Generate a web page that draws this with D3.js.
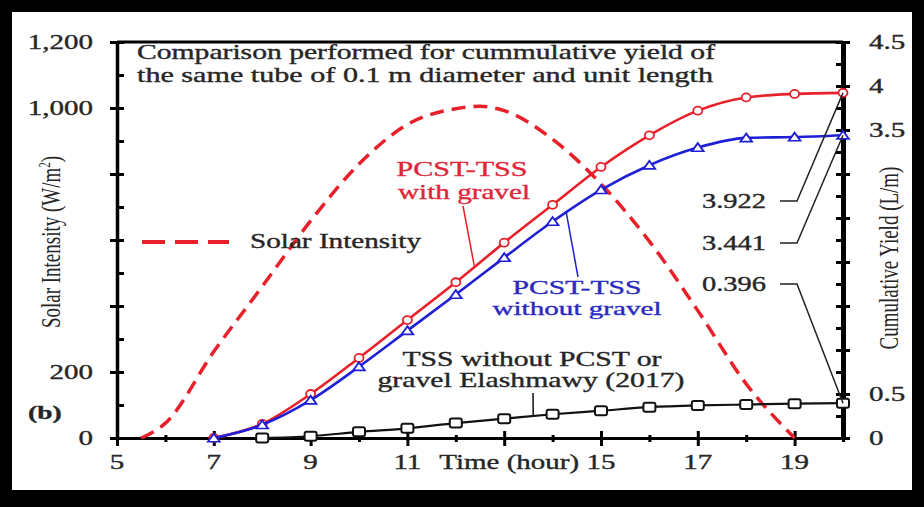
<!DOCTYPE html>
<html>
<head>
<meta charset="utf-8">
<script src="https://cdn.jsdelivr.net/npm/d3@7"></script>
<style>
  body { margin: 0; background: #fff; }
  svg { display: block; }
  text { font-family: "Liberation Serif", "Times New Roman", serif; }
</style>
</head>
<body>
<svg id="chart" width="924" height="507"></svg>
<script>
// cumulative yield (L/m)
const hours = d3.range(7, 21);
const yieldWithGravel = [0, 0.16, 0.50, 0.91, 1.34, 1.77, 2.22, 2.65, 3.08, 3.44, 3.72, 3.87, 3.91, 3.922];
const yieldWithoutGravel = [0, 0.15, 0.43, 0.81, 1.22, 1.63, 2.05, 2.46, 2.82, 3.10, 3.30, 3.41, 3.42, 3.441];
const tssHours = d3.range(8, 21);
const yieldTss = [0, 0.02, 0.07, 0.11, 0.17, 0.22, 0.27, 0.31, 0.35, 0.37, 0.38, 0.39, 0.396];

// solar intensity (W/m2)
const solarHours = [5.5, 6, 7, 8, 9, 10, 11, 12, 12.5, 13, 14, 15, 16, 17, 18, 19];
const solarIntensity = [0, 45, 262, 459, 658, 830, 950, 998, 1005, 992, 905, 770, 596, 386, 164, 0];

const xTickValues = [5, 7, 9, 11, 13, 15, 17, 19];
const xTickLabels = ["5", "7", "9", "11", "Time (hour)", "15", "17", "19"];
const leftTickValues = [0, 200, 1000, 1200];
const leftTickLabels = ["0", "200", "1,000", "1,200"];
const rightTickValues = [0, 0.5, 3.5, 4, 4.5];
const rightTickLabels = ["0", "0.5", "3.5", "4", "4.5"];
const endValues = [3.922, 3.441, 0.396];

const RED = "#e8202a", BLUE = "#1f1fd6", INK = "#262626";
const SX = 1.45; // the figure is stretched sideways

const svg = d3.select("#chart");

// black frame
svg.append("rect").attr("width", 924).attr("height", 507).attr("fill", "#000");
svg.append("rect").attr("x", 12).attr("y", 12).attr("width", 900).attr("height", 478).attr("fill", "#fff");

const x = d3.scaleLinear().domain([5, 20]).range([117, 843]);
const yL = d3.scaleLinear().domain([0, 1200]).range([438, 42]);
const yR = d3.scaleLinear().domain([0, 4.5]).range([438, 42]);

function label(s, px, py, opt = {}) {
    const fill = opt.fill || INK;
    const t = svg.append("text")
        .attr("transform", `translate(${px},${py}) scale(${SX},1)`)
        .attr("text-anchor", opt.anchor || "start")
        .attr("dy", opt.dy || "0")
        .attr("font-size", opt.size || 20)
        .attr("font-weight", opt.weight || "normal")
        .attr("fill", fill)
        .attr("stroke", fill).attr("stroke-width", 0.35)
        .text(s);
    if (opt.w) t.attr("textLength", opt.w / SX).attr("lengthAdjust", "spacingAndGlyphs");
    return t;
}

// bottom axis
const gx = svg.append("g")
    .attr("transform", `translate(0,${yL(0)})`)
    .call(d3.axisBottom(x).tickValues(d3.range(5, 21)).tickSizeOuter(0).tickFormat(""));
gx.select(".domain").attr("stroke", "#000").attr("stroke-width", 3);
gx.selectAll(".tick line")
    .attr("y1", d => d % 2 ? -7 : -3)
    .attr("y2", d => d % 2 ? 8 : 4)
    .attr("stroke", "#000").attr("stroke-width", 3);

// left axis
const gl = svg.append("g")
    .attr("transform", `translate(${x(5)},0)`)
    .call(d3.axisLeft(yL).tickValues(d3.range(0, 1201, 100)).tickSizeOuter(0).tickFormat(""));
gl.select(".domain").attr("stroke", "#000").attr("stroke-width", 3.5);
gl.selectAll(".tick line")
    .attr("x1", d => d % 200 === 0 ? -7 : 0)
    .attr("x2", 7)
    .attr("stroke", "#000").attr("stroke-width", 3);

// right axis
const gr = svg.append("g")
    .attr("transform", `translate(${x(20)},0)`)
    .call(d3.axisRight(yR).tickValues(d3.range(0, 19).map(i => i * 0.25)).tickSizeOuter(0).tickFormat(""));
gr.select(".domain").attr("stroke", "#000").attr("stroke-width", 5);
gr.selectAll(".tick line")
    .attr("x1", -7)
    .attr("x2", (d, i) => i % 2 === 0 ? 7 : 0)
    .attr("stroke", "#000").attr("stroke-width", 3);

// top edge of the plot box
svg.append("line")
    .attr("x1", x(5)).attr("x2", x(20))
    .attr("y1", yL(1200)).attr("y2", yL(1200))
    .attr("stroke", "#000").attr("stroke-width", 3);

// tick labels
xTickValues.forEach((v, i) => label(xTickLabels[i], i === 4 ? x(v) + 5 : x(v), 469, { anchor: "middle" }));
leftTickValues.forEach((v, i) => label(leftTickLabels[i], 93, yL(v), { anchor: "end", dy: "0.33em" }));
rightTickValues.forEach((v, i) => label(rightTickLabels[i], 869, yR(v), { dy: "0.33em" }));

// axis titles
svg.append("text")
    .attr("transform", `translate(50,242) scale(${SX},1) rotate(-90)`)
    .attr("text-anchor", "middle").attr("dy", "0.35em")
    .attr("font-size", 19).attr("fill", INK)
    .html('Solar Intensity (W/m<tspan dy="-7" font-size="11">2</tspan><tspan dy="7">)</tspan>');
svg.append("text")
    .attr("transform", `translate(888,258) scale(${SX},1) rotate(-90)`)
    .attr("text-anchor", "middle").attr("dy", "0.35em")
    .attr("font-size", 19).attr("fill", INK)
    .text("Cumulative Yield (L/m)");

label("(b)", 28, 419, { weight: "bold", size: 19 });

// description
label("Comparison performed for cummulative yield of", 137, 59, { w: 578 });
label("the same tube of 0.1 m diameter and unit length", 137, 82, { w: 576 });

// solar intensity curve
svg.append("path")
    .datum(solarIntensity)
    .attr("d", d3.line().x((d, i) => x(solarHours[i])).y(d => yL(d)).curve(d3.curveMonotoneX))
    .attr("fill", "none").attr("stroke", RED)
    .attr("stroke-width", 3.5).attr("stroke-dasharray", "14,8");

// legend
svg.append("line")
    .attr("x1", 142).attr("x2", 229).attr("y1", 242).attr("y2", 242)
    .attr("stroke", RED).attr("stroke-width", 4).attr("stroke-dasharray", "23,10");
label("Solar Intensity", 250, 248, { w: 171 });

// yield series
const series = [
    { xs: hours, ys: yieldWithGravel, color: RED, marker: "circle", width: 2.6 },
    { xs: hours, ys: yieldWithoutGravel, color: BLUE, marker: "triangle", width: 2.6 },
    { xs: tssHours, ys: yieldTss, color: "#111", marker: "square", width: 2.2 }
];
series.forEach(s => {
    svg.append("path")
        .datum(s.ys)
        .attr("d", d3.line().x((d, i) => x(s.xs[i])).y(d => yR(d)).curve(d3.curveMonotoneX))
        .attr("fill", "none").attr("stroke", s.color).attr("stroke-width", s.width);
    const pts = svg.append("g");
    s.ys.forEach((v, i) => {
        const px = x(s.xs[i]), py = yR(v);
        if (s.marker === "circle") {
            pts.append("ellipse").attr("cx", px).attr("cy", py).attr("rx", 4.5).attr("ry", 4)
                .attr("fill", "#fff").attr("stroke", s.color).attr("stroke-width", 1.8);
        } else if (s.marker === "triangle") {
            pts.append("path")
                .attr("transform", `translate(${px},${py + 1}) scale(1.25,1)`)
                .attr("d", d3.symbol(d3.symbolTriangle).size(38)())
                .attr("fill", "#fff").attr("stroke", s.color).attr("stroke-width", 1.6);
        } else {
            pts.append("rect").attr("x", px - 6).attr("y", py - 4.5).attr("width", 12).attr("height", 9)
                .attr("rx", 2).attr("fill", "#fff").attr("stroke", s.color).attr("stroke-width", 2);
        }
    });
});

// series annotations
label("PCST-TSS", 462, 176, { anchor: "middle", fill: "#e0263a", w: 131 });
label("with gravel", 464, 199, { anchor: "middle", fill: "#e0263a", w: 132 });
svg.append("line").attr("x1", 463).attr("y1", 206).attr("x2", x(12.38)).attr("y2", yR(1.96))
    .attr("stroke", RED).attr("stroke-width", 1.5);

label("PCST-TSS", 577, 294, { anchor: "middle", fill: "#2a2ac0", w: 129, size: 19 });
label("without gravel", 577, 315, { anchor: "middle", fill: "#2a2ac0", w: 169, size: 19 });
svg.append("line").attr("x1", 578).attr("y1", 277).attr("x2", x(14.28)).attr("y2", yR(2.57))
    .attr("stroke", BLUE).attr("stroke-width", 1.5);

label("TSS without PCST or", 532, 366, { anchor: "middle", w: 259 });
label("gravel Elashmawy (2017)", 531, 387, { anchor: "middle", w: 307 });
svg.append("line").attr("x1", 533).attr("y1", 393).attr("x2", x(13.6)).attr("y2", yR(0.25))
    .attr("stroke", "#111").attr("stroke-width", 1.5);

// end value call-outs
const calloutY = [201, 243, 284];
endValues.forEach((v, i) => {
    label(v.toFixed(3), 702, calloutY[i], { dy: "0.33em", w: 64 });
    svg.append("polyline")
        .attr("points", [[780, calloutY[i]], [797, calloutY[i]], [x(20), yR(v)]].map(p => p.join(",")).join(" "))
        .attr("fill", "none").attr("stroke", "#222").attr("stroke-width", 1.5);
});
</script>
</body>
</html>
